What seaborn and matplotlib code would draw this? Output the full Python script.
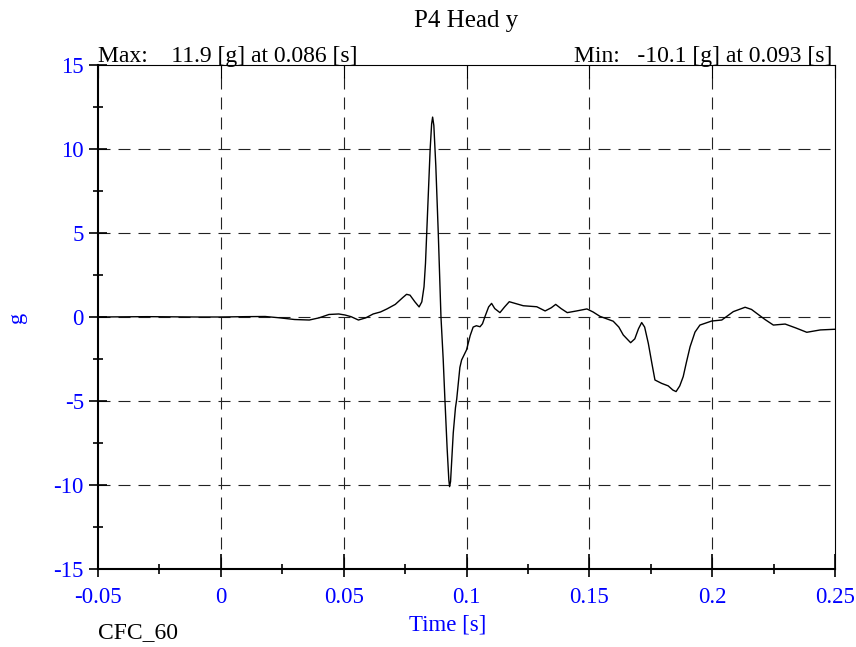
import numpy as np
import pandas as pd
import seaborn as sns
import matplotlib
matplotlib.use("Agg")
import matplotlib.pyplot as plt
from matplotlib.ticker import MultipleLocator, NullLocator

# digitised signal: time [s] and head acceleration y [g]
time_s = [-0.05, -0.03, -0.01, 0.0, 0.01, 0.018, 0.024, 0.030, 0.036, 0.040,
          0.044, 0.048, 0.0505, 0.053, 0.056, 0.059, 0.062, 0.065, 0.0676, 0.071,
          0.074, 0.0756, 0.077, 0.079, 0.0807, 0.0818, 0.0827, 0.0833, 0.0838, 0.0845,
          0.0852, 0.0858, 0.0862, 0.0867, 0.0875, 0.0885, 0.0896, 0.0905, 0.0912, 0.0921,
          0.0928, 0.0931, 0.0935, 0.0946, 0.0955, 0.096, 0.0973, 0.098, 0.100, 0.1015,
          0.1027, 0.1040, 0.1055, 0.1065, 0.1075, 0.1090, 0.1102, 0.1115, 0.1136, 0.1155,
          0.1174, 0.120, 0.1231, 0.1286, 0.132, 0.1345, 0.1363, 0.1385, 0.141, 0.1448,
          0.149, 0.1515, 0.1543, 0.1597, 0.1620, 0.1638, 0.1668, 0.1685, 0.1700, 0.1713,
          0.1725, 0.1740, 0.1755, 0.1767, 0.1794, 0.1821, 0.1840, 0.1853, 0.1868, 0.1882,
          0.1895, 0.191, 0.193, 0.195, 0.1998, 0.2039, 0.2086, 0.2134, 0.2160, 0.2181,
          0.2215, 0.2249, 0.2297, 0.234, 0.2385, 0.244, 0.25]
accel_g = [0.0, 0.02, 0.0, 0.0, 0.02, 0.03, -0.05, -0.15, -0.18, -0.05,
           0.15, 0.18, 0.12, 0.02, -0.18, -0.05, 0.18, 0.3, 0.48, 0.75,
           1.15, 1.35, 1.3, 0.9, 0.6, 0.9, 1.8, 3.2, 5.0, 7.5,
           10.0, 11.5, 11.9, 11.4, 9.0, 5.0, 0.0, -2.5, -4.9, -7.8,
           -9.7, -10.1, -9.8, -6.9, -5.4, -4.9, -3.0, -2.56, -1.96, -1.1,
           -0.6, -0.52, -0.58, -0.4, 0.02, 0.6, 0.81, 0.5, 0.26, 0.6,
           0.91, 0.8, 0.67, 0.61, 0.36, 0.55, 0.75, 0.5, 0.26, 0.36,
           0.48, 0.3, 0.04, -0.25, -0.6, -1.07, -1.53, -1.3, -0.7, -0.33,
           -0.6, -1.57, -2.8, -3.75, -3.95, -4.1, -4.35, -4.44, -4.1, -3.55,
           -2.7, -1.77, -0.9, -0.48, -0.24, -0.18, 0.32, 0.58, 0.45, 0.22,
           -0.15, -0.48, -0.42, -0.65, -0.91, -0.77, -0.73]

x_ticks = [-0.05, 0, 0.05, 0.1, 0.15, 0.2, 0.25]
x_labels = ["-0.05", "0", "0.05", "0.1", "0.15", "0.2", "0.25"]
y_ticks = [-15, -10, -5, 0, 5, 10, 15]
y_labels = ["-15", "-10", "-5", "0", "5", "10", "15"]

title = "P4 Head y"
max_text = "Max:    11.9 [g] at 0.086 [s]"
min_text = "Min:   -10.1 [g] at 0.093 [s]"
filter_text = "CFC_60"

df = pd.DataFrame({"t": time_s, "g": accel_g})

sns.set_style("white")
plt.rcParams['font.family'] = ['Liberation Serif', 'DejaVu Serif']
plt.rcParams['axes.unicode_minus'] = False
blue = "#0000ff"

fig = plt.figure(figsize=(8.56, 6.47), dpi=100)
ax = fig.add_axes([0.1145, 0.1206, 0.861, 0.7789])

sns.lineplot(data=df, x="t", y="g", ax=ax, color="black", linewidth=1.0)

ax.set_xlim(-0.05, 0.25)
ax.set_ylim(-15, 15)
ax.set_xticks(x_ticks)
ax.set_xticklabels(x_labels)
ax.set_yticks(y_ticks)
ax.set_yticklabels(y_labels)
ax.xaxis.set_minor_locator(MultipleLocator(0.025))
ax.yaxis.set_minor_locator(MultipleLocator(2.5))

ax.set_xlabel("")
ax.set_ylabel("")

# dashed grid only at inner major ticks
for xv in x_ticks[1:-1]:
    ax.axvline(xv, color="#222222", linewidth=0.8, linestyle=(0, (10.8, 7.2)), zorder=0)
for yv in y_ticks[1:-1]:
    ax.axhline(yv, color="#222222", linewidth=0.8, linestyle=(0, (10.8, 7.2)), zorder=0)

for side in ["left", "bottom"]:
    ax.spines[side].set_linewidth(1.5)
    ax.spines[side].set_color("black")
for side in ["top", "right"]:
    ax.spines[side].set_linewidth(0.8)
    ax.spines[side].set_color("black")

ax.tick_params(axis="x", which="major", direction="out", length=6, width=1.2,
               colors="black", labelcolor=blue, labelsize=16.5, pad=7,
               bottom=True, top=False)
ax.tick_params(axis="x", which="minor", direction="inout", length=7, width=1.2,
               colors="black", bottom=True, top=False)
ax.tick_params(axis="y", which="major", direction="inout", length=13.5, width=1.2,
               colors="black", labelcolor=blue, labelsize=16.5, pad=3.5,
               left=True, right=False)
ax.tick_params(axis="y", which="minor", direction="inout", length=7, width=1.2,
               colors="black", left=True, right=False)

# inner part of the bottom ticks
sec_b = ax.secondary_xaxis("bottom")
sec_b.set_xticks(x_ticks)
sec_b.xaxis.set_minor_locator(NullLocator())
sec_b.tick_params(axis="x", which="major", direction="in", length=10.5, width=1.2,
                  color="black", bottom=True, labelbottom=False)
sec_b.spines["bottom"].set_visible(False)

# inward ticks on top
sec_t = ax.secondary_xaxis("top")
sec_t.set_xticks(x_ticks)
sec_t.xaxis.set_minor_locator(NullLocator())
sec_t.tick_params(axis="x", which="major", direction="in", length=9.4, width=0.8,
                  color="black", top=True, labeltop=False)
sec_t.spines["top"].set_visible(False)

fig.text(0.545, 0.968, title, ha="center", va="center", fontsize=18, color="black")
fig.text(0.1145, 0.912, max_text, ha="left", va="center", fontsize=17, color="black")
fig.text(0.972, 0.912, min_text, ha="right", va="center", fontsize=17, color="black")
fig.text(0.1145, 0.022, filter_text, ha="left", va="center", fontsize=17, color="black")
fig.text(0.523, 0.034, "Time [s]", ha="center", va="center", fontsize=16.5, color=blue)
fig.text(0.021, 0.51, "g", ha="center", va="center", fontsize=16, color=blue, rotation=90)

fig.savefig("out.png", dpi=100)
